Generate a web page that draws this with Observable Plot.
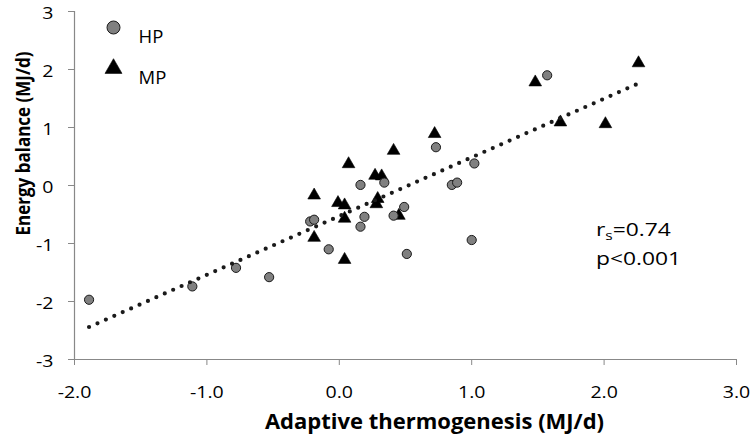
<!DOCTYPE html>
<html>
<head>
<meta charset="utf-8">
<script src="https://cdn.jsdelivr.net/npm/d3@7"></script>
<script src="https://cdn.jsdelivr.net/npm/@observablehq/plot@0.6"></script>
<style>
  html, body { margin: 0; padding: 0; background: #fff; }
  #wrap { position: relative; width: 752px; height: 443px; font-family: "Open Sans", sans-serif; }
  .ann { position: absolute; left: 596px; font-size: 19px; line-height: 26px; color: #000; white-space: nowrap; transform: scaleX(1.2); transform-origin: left center; }
  .ann .sub { font-size: 13px; line-height: 0; vertical-align: -3.5px; }
</style>
</head>
<body>
<div id="wrap"><div class="ann" id="ann1" style="top:216px"></div><div class="ann" id="ann2" style="top:245px"></div></div>
<script>
// HP group (grey circles)
const hpX = [-1.89, -1.11, -0.78, -0.53, -0.22, -0.19, -0.08, 0.16, 0.19, 0.16, 0.34, 0.41, 0.49, 0.51, 0.73, 0.85, 0.89, 1.02, 1.00, 1.57];
const hpY = [-1.97, -1.74, -1.42, -1.58, -0.62, -0.59, -1.10, 0.01, -0.54, -0.71, 0.05, -0.52, -0.37, -1.18, 0.66, 0.01, 0.05, 0.38, -0.94, 1.90];
// MP group (black triangles)
const mpX = [-0.19, -0.19, -0.01, 0.04, 0.04, 0.04, 0.07, 0.27, 0.32, 0.29, 0.28, 0.41, 0.45, 0.72, 1.48, 1.67, 2.01, 2.26];
const mpY = [-0.17, -0.90, -0.30, -0.34, -0.57, -1.28, 0.37, 0.17, 0.16, -0.23, -0.32, 0.60, -0.52, 0.89, 1.78, 1.09, 1.06, 2.11];
// dotted trend line end points
const trendX = [-1.89, 2.24];
const trendY = [-2.44, 1.74];
// axes
const xTicks = [-2, -1, 0, 1, 2, 3];
const xTickLabels = ["-2.0", "-1.0", "0.0", "1.0", "2.0", "3.0"];
const yTicks = [-3, -2, -1, 0, 1, 2, 3];
const yTickLabels = ["-3", "-2", "-1", "0", "1", "2", "3"];
const xTitle = "Adaptive thermogenesis (MJ/d)";
const yTitle = "Energy balance (MJ/d)";
const legendLabels = ["HP", "MP"];
const statR = ["r", "s", "=0.74"];
const statP = "p<0.001";

const hp = hpX.map((x, i) => ({x, y: hpY[i]}));
const mp = mpX.map((x, i) => ({x, y: mpY[i]}));
const trend = trendX.map((x, i) => ({x, y: trendY[i]}));

const chart = Plot.plot({
  width: 752,
  height: 443,
  marginLeft: 74,
  marginRight: 16,
  marginTop: 11,
  marginBottom: 84,
  style: { fontFamily: "'Open Sans', sans-serif", fontSize: "17px", background: "white", color: "black" },
  x: { domain: [-2, 3] },
  y: { domain: [-3, 3] },
  marks: [
    Plot.axisX({ ticks: xTicks, tickFormat: (d) => xTickLabels[xTicks.indexOf(d)], tickSize: 6, tickPadding: 20, label: null, color: "black", stroke: "#888", fontSize: 17 }),
    Plot.axisY({ ticks: yTicks, tickFormat: (d) => yTickLabels[yTicks.indexOf(d)], tickSize: 6, tickPadding: 15, label: null, color: "black", stroke: "#888", fontSize: 17 }),
    Plot.ruleY([-3], { stroke: "#888", strokeWidth: 1.2 }),
    Plot.ruleX([-2], { stroke: "#888", strokeWidth: 1.2 }),
    Plot.dot(mp, { x: "x", y: "y", symbol: "triangle", r: 4.7, fill: "#000", stroke: "#000", strokeWidth: 0.6 }),
    Plot.dot(hp, { x: "x", y: "y", symbol: "circle", r: 4.6, fill: "#808080", stroke: "#1a1a1a", strokeWidth: 1 }),
    Plot.line(trend, { x: "x", y: "y", stroke: "#1a1a1a", strokeWidth: 4.2, strokeDasharray: "0 9.2", strokeLinecap: "round" }),
    // legend
    Plot.dot([legendLabels[0]], { frameAnchor: "top-left", dx: 39, dy: 16, symbol: "circle", r: 6.5, fill: "#808080", stroke: "#1a1a1a", strokeWidth: 1 }),
    Plot.dot([legendLabels[1]], { frameAnchor: "top-left", dx: 39, dy: 57, symbol: "triangle", r: 6.3, fill: "#000", stroke: "#000", strokeWidth: 0.6 }),
    Plot.text([legendLabels[0]], { text: d => d, frameAnchor: "top-left", dx: 64, dy: 18, textAnchor: "start", fontSize: 18.5 }),
    Plot.text([legendLabels[1]], { text: d => d, frameAnchor: "top-left", dx: 64, dy: 59, textAnchor: "start", fontSize: 18.5 }),
    // axis titles
    Plot.text([xTitle], { text: d => d, frameAnchor: "bottom", dx: 29, dy: 69, textAnchor: "middle", fontSize: 22, fontWeight: "bold" }),
    Plot.text([yTitle], { text: d => d, frameAnchor: "left", dx: -51, dy: -42, rotate: -90, textAnchor: "middle", fontSize: 17, fontWeight: "bold" })
  ]
});
// tick labels in the reference are drawn slightly wide: stretch them horizontally about their anchor
chart.querySelectorAll('g[aria-label="x-axis tick label"] text').forEach(t => {
  const tr = t.getAttribute("transform");
  if (tr) t.setAttribute("transform", tr + " scale(1.15,1)");
});
// y labels sit a little below their ticks in the reference
chart.querySelectorAll('g[aria-label="y-axis tick label"] text').forEach(t => {
  const tr = t.getAttribute("transform");
  if (tr) t.setAttribute("transform", tr + " translate(0,2.5) scale(1.15,1)");
});
// the rotated y title is a little heavier horizontally in the reference
chart.querySelectorAll("text").forEach(t => {
  if (t.textContent === yTitle) {
    const tr = t.getAttribute("transform");
    if (tr) t.setAttribute("transform", tr + " scale(1,1.2)");
  }
});
const wrap = document.getElementById("wrap");
wrap.insertBefore(chart, wrap.firstChild);

const ann1 = document.getElementById("ann1");
ann1.append(statR[0]);
const sub = document.createElement("span");
sub.className = "sub";
sub.textContent = statR[1];
ann1.append(sub, statR[2]);
document.getElementById("ann2").append(statP);
</script>
</body>
</html>
